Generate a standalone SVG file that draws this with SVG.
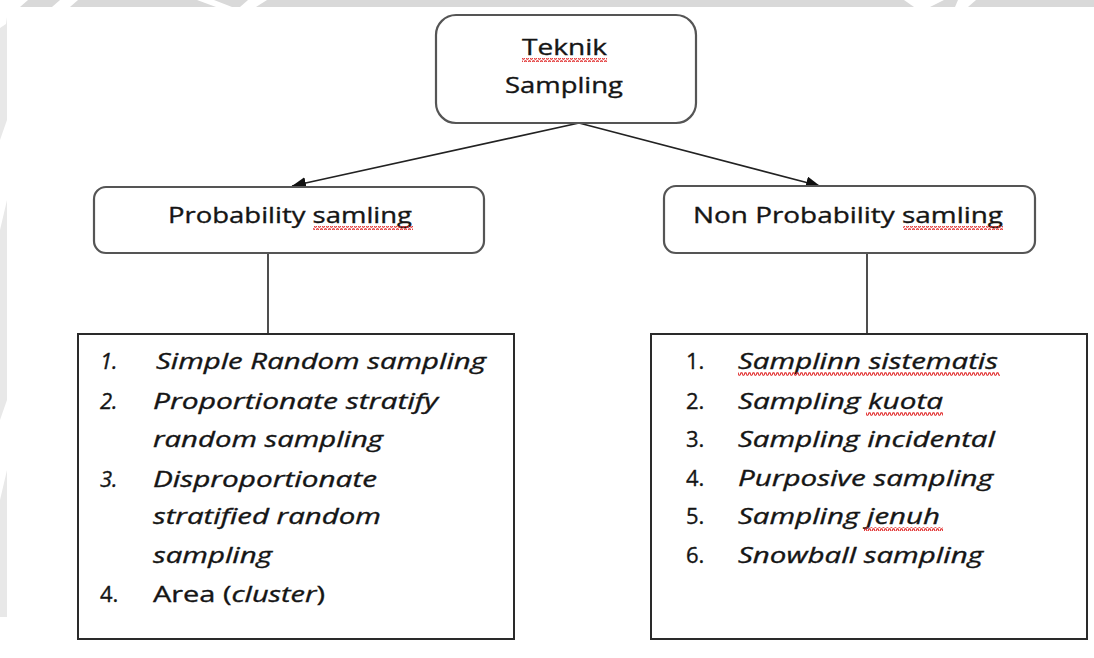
<svg xmlns="http://www.w3.org/2000/svg" width="1094" height="658" viewBox="0 0 1094 658">
  <defs>
    <style>
      .lbl { font-family: "Open Sans", "Liberation Sans", sans-serif; font-size: 22px; fill: #151515; stroke: #151515; stroke-width: 0.35; }
      .it { font-style: italic; }
      .rbox { fill: #ffffff; stroke: #555555; stroke-width: 2.2; }
      .lbox { fill: #ffffff; stroke: #2a2a2a; stroke-width: 2; }
      .edge { stroke: #222222; stroke-width: 1.6; fill: none; }
      .spell { fill: url(#squiggle); }
    </style>
    <marker id="arrow" markerUnits="userSpaceOnUse" markerWidth="15" markerHeight="13" refX="14" refY="6" orient="auto">
      <path d="M0,0 L14,6 L0,12 z" fill="#111111"/>
    </marker>
    <!-- red wavy underline used by the spelling marks -->
    <pattern id="squiggle" width="4" height="4" patternUnits="userSpaceOnUse">
      <polyline points="0,3.2 1,0.8 2,0.8 3,3.2 4,3.2" fill="none" stroke="#e02828" stroke-width="1.1"/>
    </pattern>
  </defs>

  <!-- page background with faint watermark edges -->
  <rect x="0" y="0" width="1094" height="658" fill="#ffffff"/>
  <rect x="0" y="0" width="1094" height="7" fill="#d9d9d9"/>
  <rect x="0" y="7" width="7" height="610" fill="#e8e8e8"/>
  <g fill="#ffffff">
    <path d="M0,0 L28,0 L20,7 L8,10 L6,24 L0,28 z"/>
    <path d="M60,0 L78,0 L70,7 L52,7 z"/>
    <path d="M197,0 L214,0 L232,7 L216,7 z"/>
    <path d="M248,0 L267,0 L256,7 L240,7 z"/>
    <path d="M904,0 L944,0 L930,7 L914,7 z"/>
    <path d="M958,0 L976,0 L968,7 L955,7 z"/>
    <path d="M0,140 L7,120 L7,200 L0,230 z"/>
    <path d="M0,420 L7,400 L7,470 L0,500 z"/>
  </g>

  <!-- connectors -->
  <g id="connectors">
    <line class="edge" x1="579" y1="123" x2="292" y2="186" marker-end="url(#arrow)"/>
    <line class="edge" x1="579" y1="123" x2="820" y2="186" marker-end="url(#arrow)"/>
    <line class="edge" x1="268" y1="253" x2="268" y2="334"/>
    <line class="edge" x1="867" y1="253" x2="867" y2="334"/>
  </g>

  <!-- root node -->
  <g id="teknik-sampling">
    <rect class="rbox" x="436" y="15" width="260" height="108" rx="20" ry="20"/>
    <text class="lbl" x="522" y="55" textLength="85" lengthAdjust="spacingAndGlyphs">Teknik</text>
    <text class="lbl" x="505" y="93" textLength="118" lengthAdjust="spacingAndGlyphs">Sampling</text>
    <rect class="spell" x="522" y="58" width="85" height="4"/>
  </g>

  <!-- probability branch -->
  <g id="probability">
    <rect class="rbox" x="94" y="187" width="390" height="66" rx="12" ry="12"/>
    <text class="lbl" x="168" y="223" textLength="244" lengthAdjust="spacingAndGlyphs">Probability samling</text>
    <rect class="spell" x="313" y="226" width="100" height="4"/>
  </g>

  <!-- non-probability branch -->
  <g id="non-probability">
    <rect class="rbox" x="664" y="186" width="371" height="67" rx="12" ry="12"/>
    <text class="lbl" x="693" y="223" textLength="310" lengthAdjust="spacingAndGlyphs">Non Probability samling</text>
    <rect class="spell" x="903" y="226" width="100" height="4"/>
  </g>

  <!-- probability techniques list -->
  <g id="probability-list">
    <rect class="lbox" x="78" y="334" width="436" height="305"/>
    <text class="lbl it" x="100" y="369">1.</text>
    <text class="lbl it" x="156" y="369" textLength="330" lengthAdjust="spacingAndGlyphs">Simple Random sampling</text>
    <text class="lbl it" x="100" y="409">2.</text>
    <text class="lbl it" x="153" y="409" textLength="285" lengthAdjust="spacingAndGlyphs">Proportionate stratify</text>
    <text class="lbl it" x="153" y="447" textLength="230" lengthAdjust="spacingAndGlyphs">random sampling</text>
    <text class="lbl it" x="100" y="487">3.</text>
    <text class="lbl it" x="153" y="487" textLength="224" lengthAdjust="spacingAndGlyphs">Disproportionate</text>
    <text class="lbl it" x="153" y="524" textLength="228" lengthAdjust="spacingAndGlyphs">stratified random</text>
    <text class="lbl it" x="153" y="563" textLength="119" lengthAdjust="spacingAndGlyphs">sampling</text>
    <text class="lbl" x="100" y="602">4.</text>
    <text class="lbl" x="153" y="602" textLength="172" lengthAdjust="spacingAndGlyphs">Area (<tspan class="it">cluster</tspan>)</text>
  </g>

  <!-- non-probability techniques list -->
  <g id="non-probability-list">
    <rect class="lbox" x="651" y="334" width="436" height="305"/>
    <text class="lbl" x="686" y="369">1.</text>
    <text class="lbl it" x="738" y="369" textLength="260" lengthAdjust="spacingAndGlyphs">Samplinn sistematis</text>
    <rect class="spell" x="738" y="372" width="262" height="4"/>
    <text class="lbl" x="686" y="409">2.</text>
    <text class="lbl it" x="738" y="409" textLength="205" lengthAdjust="spacingAndGlyphs">Sampling kuota</text>
    <rect class="spell" x="866" y="412" width="77" height="4"/>
    <text class="lbl" x="686" y="447">3.</text>
    <text class="lbl it" x="738" y="447" textLength="257" lengthAdjust="spacingAndGlyphs">Sampling incidental</text>
    <text class="lbl" x="686" y="486">4.</text>
    <text class="lbl it" x="738" y="486" textLength="255" lengthAdjust="spacingAndGlyphs">Purposive sampling</text>
    <text class="lbl" x="686" y="524">5.</text>
    <text class="lbl it" x="738" y="524" textLength="202" lengthAdjust="spacingAndGlyphs">Sampling jenuh</text>
    <rect class="spell" x="864" y="527" width="79" height="4"/>
    <text class="lbl" x="686" y="563">6.</text>
    <text class="lbl it" x="738" y="563" textLength="245" lengthAdjust="spacingAndGlyphs">Snowball sampling</text>
  </g>
</svg>
